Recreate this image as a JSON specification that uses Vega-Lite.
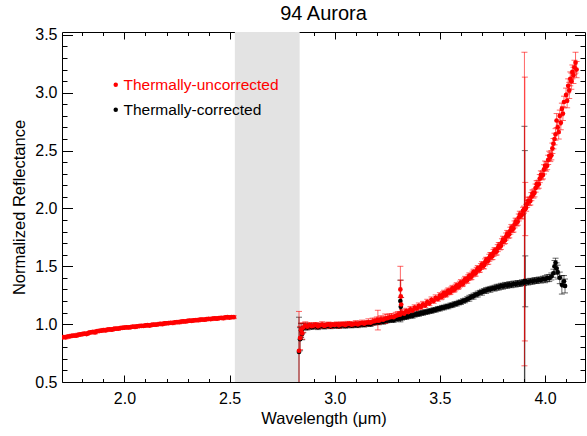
{
"$schema": "https://vega.github.io/schema/vega-lite/v6.json",
"width": 523, "height": 350,
"autosize": "none",
"padding": {"left": 62, "top": 32, "right": 2, "bottom": 54},
"background": "white",
"title": {"text": "94 Aurora", "fontSize": 20, "fontWeight": "normal", "font": "Liberation Sans", "color": "black", "offset": 3},
"config": {
  "font": "Liberation Sans",
  "view": {"stroke": null},
  "axis": {"grid": false, "domainColor": "black", "tickColor": "black", "labelColor": "black", "titleColor": "black", "labelFontSize": 16, "titleFontSize": 16.5, "titleFontWeight": "normal", "labelFont": "Liberation Sans", "titleFont": "Liberation Sans", "labelOverlap": false, "labelFlush": false, "labelBound": false},
  "legend": {"labelFont": "Liberation Sans", "labelFontSize": 15.5}
},
"datasets": {
"spec": [
{"s":"c","w":2.83,"v":0.76,"e":0.3},{"s":"c","w":2.835,"v":0.87,"e":0.1},{"s":"c","w":2.84,"v":0.945,"e":0.06},{"s":"c","w":2.845,"v":0.915,"e":0.05},{"s":"c","w":2.85,"v":0.965,"e":0.04},{"s":"c","w":2.86,"v":0.98,"e":0.03},{"s":"c","w":2.87,"v":0.97,"e":0.02},{"s":"c","w":2.88,"v":0.985,"e":0.02},{"s":"c","w":2.89,"v":0.975,"e":0.02},{"s":"c","w":2.9,"v":0.98,"e":0.02},{"s":"c","w":2.91,"v":0.985,"e":0.02},{"s":"c","w":2.92,"v":0.973,"e":0.02},{"s":"c","w":2.93,"v":0.983,"e":0.02},{"s":"c","w":2.94,"v":0.987,"e":0.02},{"s":"c","w":2.95,"v":0.978,"e":0.02},{"s":"c","w":2.96,"v":0.985,"e":0.02},{"s":"c","w":2.97,"v":0.99,"e":0.02},{"s":"c","w":2.98,"v":0.981,"e":0.02},{"s":"c","w":2.99,"v":0.987,"e":0.02},{"s":"c","w":3.0,"v":0.985,"e":0.02},{"s":"c","w":3.01,"v":0.99,"e":0.02},{"s":"c","w":3.02,"v":0.983,"e":0.02},{"s":"c","w":3.03,"v":0.989,"e":0.02},{"s":"c","w":3.04,"v":0.993,"e":0.02},{"s":"c","w":3.05,"v":0.985,"e":0.02},{"s":"c","w":3.06,"v":0.99,"e":0.02},{"s":"c","w":3.07,"v":0.994,"e":0.02},{"s":"c","w":3.08,"v":0.988,"e":0.02},{"s":"c","w":3.09,"v":0.992,"e":0.02},{"s":"c","w":3.1,"v":0.996,"e":0.02},{"s":"c","w":3.11,"v":0.99,"e":0.02},{"s":"c","w":3.12,"v":0.997,"e":0.02},{"s":"c","w":3.13,"v":1.0,"e":0.02},{"s":"c","w":3.14,"v":0.995,"e":0.02},{"s":"c","w":3.15,"v":1.002,"e":0.02},{"s":"c","w":3.16,"v":1.005,"e":0.02},{"s":"c","w":3.17,"v":1.0,"e":0.02},{"s":"c","w":3.18,"v":1.01,"e":0.02},{"s":"c","w":3.19,"v":1.013,"e":0.02},{"s":"c","w":3.2,"v":1.018,"e":0.02},{"s":"c","w":3.21,"v":1.015,"e":0.02},{"s":"c","w":3.22,"v":1.025,"e":0.02},{"s":"c","w":3.23,"v":1.02,"e":0.02},{"s":"c","w":3.24,"v":1.03,"e":0.025},{"s":"c","w":3.25,"v":1.032,"e":0.02},{"s":"c","w":3.26,"v":1.035,"e":0.02},{"s":"c","w":3.27,"v":1.038,"e":0.02},{"s":"c","w":3.28,"v":1.035,"e":0.02},{"s":"c","w":3.29,"v":1.045,"e":0.02},{"s":"c","w":3.3,"v":1.048,"e":0.02},{"s":"c","w":3.31,"v":1.052,"e":0.02},{"s":"c","w":3.312,"v":1.2,"e":0.18},{"s":"c","w":3.314,"v":1.15,"e":0.08},{"s":"c","w":3.32,"v":1.055,"e":0.02},{"s":"c","w":3.33,"v":1.06,"e":0.02},{"s":"c","w":3.34,"v":1.062,"e":0.02},{"s":"c","w":3.35,"v":1.068,"e":0.02},{"s":"c","w":3.36,"v":1.074,"e":0.02},{"s":"c","w":3.37,"v":1.072,"e":0.02},{"s":"c","w":3.38,"v":1.081,"e":0.02},{"s":"c","w":3.39,"v":1.087,"e":0.02},{"s":"c","w":3.4,"v":1.088,"e":0.02},{"s":"c","w":3.41,"v":1.096,"e":0.02},{"s":"c","w":3.42,"v":1.097,"e":0.02},{"s":"c","w":3.43,"v":1.104,"e":0.02},{"s":"c","w":3.44,"v":1.106,"e":0.02},{"s":"c","w":3.45,"v":1.113,"e":0.02},{"s":"c","w":3.46,"v":1.114,"e":0.02},{"s":"c","w":3.47,"v":1.122,"e":0.02},{"s":"c","w":3.48,"v":1.124,"e":0.02},{"s":"c","w":3.49,"v":1.132,"e":0.02},{"s":"c","w":3.5,"v":1.134,"e":0.02},{"s":"c","w":3.51,"v":1.142,"e":0.02},{"s":"c","w":3.52,"v":1.144,"e":0.02},{"s":"c","w":3.53,"v":1.152,"e":0.02},{"s":"c","w":3.54,"v":1.153,"e":0.02},{"s":"c","w":3.55,"v":1.162,"e":0.02},{"s":"c","w":3.56,"v":1.165,"e":0.02},{"s":"c","w":3.57,"v":1.174,"e":0.02},{"s":"c","w":3.58,"v":1.177,"e":0.02},{"s":"c","w":3.59,"v":1.186,"e":0.02},{"s":"c","w":3.6,"v":1.19,"e":0.02},{"s":"c","w":3.61,"v":1.2,"e":0.02},{"s":"c","w":3.62,"v":1.205,"e":0.02},{"s":"c","w":3.63,"v":1.217,"e":0.02},{"s":"c","w":3.64,"v":1.224,"e":0.025},{"s":"c","w":3.65,"v":1.236,"e":0.02},{"s":"c","w":3.66,"v":1.242,"e":0.025},{"s":"c","w":3.67,"v":1.254,"e":0.02},{"s":"c","w":3.68,"v":1.26,"e":0.025},{"s":"c","w":3.69,"v":1.272,"e":0.02},{"s":"c","w":3.7,"v":1.276,"e":0.025},{"s":"c","w":3.71,"v":1.287,"e":0.02},{"s":"c","w":3.72,"v":1.291,"e":0.025},{"s":"c","w":3.73,"v":1.3,"e":0.02},{"s":"c","w":3.74,"v":1.301,"e":0.025},{"s":"c","w":3.75,"v":1.31,"e":0.02},{"s":"c","w":3.76,"v":1.311,"e":0.025},{"s":"c","w":3.77,"v":1.319,"e":0.025},{"s":"c","w":3.78,"v":1.32,"e":0.025},{"s":"c","w":3.79,"v":1.328,"e":0.025},{"s":"c","w":3.8,"v":1.328,"e":0.025},{"s":"c","w":3.81,"v":1.336,"e":0.025},{"s":"c","w":3.82,"v":1.335,"e":0.025},{"s":"c","w":3.83,"v":1.342,"e":0.025},{"s":"c","w":3.84,"v":1.34,"e":0.025},{"s":"c","w":3.85,"v":1.347,"e":0.025},{"s":"c","w":3.86,"v":1.346,"e":0.025},{"s":"c","w":3.87,"v":1.352,"e":0.025},{"s":"c","w":3.88,"v":1.351,"e":0.025},{"s":"c","w":3.89,"v":1.358,"e":0.025},{"s":"c","w":3.9,"v":1.358,"e":0.025},{"s":"c","w":3.902,"v":1.37,"e":1.34},{"s":"c","w":3.904,"v":1.37,"e":1.13},{"s":"c","w":3.906,"v":1.37,"e":0.22},{"s":"c","w":3.91,"v":1.365,"e":0.025},{"s":"c","w":3.92,"v":1.364,"e":0.025},{"s":"c","w":3.93,"v":1.371,"e":0.025},{"s":"c","w":3.94,"v":1.37,"e":0.025},{"s":"c","w":3.95,"v":1.377,"e":0.025},{"s":"c","w":3.96,"v":1.376,"e":0.025},{"s":"c","w":3.97,"v":1.382,"e":0.025},{"s":"c","w":3.98,"v":1.381,"e":0.025},{"s":"c","w":3.99,"v":1.389,"e":0.025},{"s":"c","w":4.0,"v":1.388,"e":0.03},{"s":"c","w":4.01,"v":1.397,"e":0.03},{"s":"c","w":4.02,"v":1.398,"e":0.03},{"s":"c","w":4.03,"v":1.412,"e":0.03},{"s":"c","w":4.04,"v":1.44,"e":0.035},{"s":"c","w":4.045,"v":1.5,"e":0.05},{"s":"c","w":4.05,"v":1.53,"e":0.04},{"s":"c","w":4.055,"v":1.48,"e":0.05},{"s":"c","w":4.06,"v":1.45,"e":0.06},{"s":"c","w":4.07,"v":1.4,"e":0.05},{"s":"c","w":4.08,"v":1.34,"e":0.08},{"s":"c","w":4.09,"v":1.37,"e":0.05},{"s":"c","w":4.095,"v":1.33,"e":0.06},
{"s":"u","w":1.7,"v":0.884,"e":0.012},{"s":"u","w":1.71,"v":0.889,"e":0.012},{"s":"u","w":1.72,"v":0.886,"e":0.014},{"s":"u","w":1.73,"v":0.893,"e":0.012},{"s":"u","w":1.74,"v":0.895,"e":0.012},{"s":"u","w":1.75,"v":0.899,"e":0.014},{"s":"u","w":1.76,"v":0.902,"e":0.012},{"s":"u","w":1.77,"v":0.9,"e":0.012},{"s":"u","w":1.78,"v":0.908,"e":0.014},{"s":"u","w":1.79,"v":0.911,"e":0.012},{"s":"u","w":1.8,"v":0.913,"e":0.012},{"s":"u","w":1.81,"v":0.918,"e":0.014},{"s":"u","w":1.82,"v":0.914,"e":0.012},{"s":"u","w":1.83,"v":0.924,"e":0.012},{"s":"u","w":1.84,"v":0.93,"e":0.014},{"s":"u","w":1.85,"v":0.933,"e":0.012},{"s":"u","w":1.86,"v":0.928,"e":0.012},{"s":"u","w":1.87,"v":0.939,"e":0.014},{"s":"u","w":1.88,"v":0.942,"e":0.012},{"s":"u","w":1.89,"v":0.944,"e":0.012},{"s":"u","w":1.9,"v":0.949,"e":0.014},{"s":"u","w":1.91,"v":0.946,"e":0.012},{"s":"u","w":1.92,"v":0.953,"e":0.012},{"s":"u","w":1.93,"v":0.955,"e":0.014},{"s":"u","w":1.94,"v":0.952,"e":0.012},{"s":"u","w":1.95,"v":0.959,"e":0.012},{"s":"u","w":1.96,"v":0.962,"e":0.014},{"s":"u","w":1.97,"v":0.96,"e":0.012},{"s":"u","w":1.98,"v":0.966,"e":0.012},{"s":"u","w":1.99,"v":0.968,"e":0.014},{"s":"u","w":2.0,"v":0.97,"e":0.012},{"s":"u","w":2.01,"v":0.973,"e":0.012},{"s":"u","w":2.02,"v":0.971,"e":0.014},{"s":"u","w":2.03,"v":0.975,"e":0.012},{"s":"u","w":2.04,"v":0.978,"e":0.012},{"s":"u","w":2.05,"v":0.976,"e":0.014},{"s":"u","w":2.06,"v":0.981,"e":0.012},{"s":"u","w":2.07,"v":0.983,"e":0.012},{"s":"u","w":2.08,"v":0.985,"e":0.014},{"s":"u","w":2.09,"v":0.984,"e":0.012},{"s":"u","w":2.1,"v":0.989,"e":0.012},{"s":"u","w":2.11,"v":0.991,"e":0.014},{"s":"u","w":2.12,"v":0.988,"e":0.012},{"s":"u","w":2.13,"v":0.994,"e":0.012},{"s":"u","w":2.14,"v":0.996,"e":0.014},{"s":"u","w":2.15,"v":0.995,"e":0.012},{"s":"u","w":2.16,"v":0.999,"e":0.012},{"s":"u","w":2.17,"v":1.002,"e":0.014},{"s":"u","w":2.18,"v":1.0,"e":0.012},{"s":"u","w":2.19,"v":1.006,"e":0.012},{"s":"u","w":2.2,"v":1.008,"e":0.014},{"s":"u","w":2.21,"v":1.009,"e":0.012},{"s":"u","w":2.22,"v":1.012,"e":0.012},{"s":"u","w":2.23,"v":1.01,"e":0.014},{"s":"u","w":2.24,"v":1.016,"e":0.012},{"s":"u","w":2.25,"v":1.018,"e":0.012},{"s":"u","w":2.26,"v":1.017,"e":0.014},{"s":"u","w":2.27,"v":1.022,"e":0.012},{"s":"u","w":2.28,"v":1.024,"e":0.012},{"s":"u","w":2.29,"v":1.023,"e":0.014},{"s":"u","w":2.3,"v":1.028,"e":0.012},{"s":"u","w":2.31,"v":1.03,"e":0.012},{"s":"u","w":2.32,"v":1.029,"e":0.014},{"s":"u","w":2.33,"v":1.033,"e":0.012},{"s":"u","w":2.34,"v":1.035,"e":0.012},{"s":"u","w":2.35,"v":1.034,"e":0.014},{"s":"u","w":2.36,"v":1.039,"e":0.012},{"s":"u","w":2.37,"v":1.04,"e":0.012},{"s":"u","w":2.38,"v":1.038,"e":0.014},{"s":"u","w":2.39,"v":1.043,"e":0.012},{"s":"u","w":2.4,"v":1.045,"e":0.012},{"s":"u","w":2.41,"v":1.044,"e":0.014},{"s":"u","w":2.42,"v":1.048,"e":0.012},{"s":"u","w":2.43,"v":1.05,"e":0.012},{"s":"u","w":2.44,"v":1.047,"e":0.014},{"s":"u","w":2.45,"v":1.053,"e":0.012},{"s":"u","w":2.46,"v":1.055,"e":0.012},{"s":"u","w":2.47,"v":1.052,"e":0.014},{"s":"u","w":2.48,"v":1.058,"e":0.012},{"s":"u","w":2.49,"v":1.06,"e":0.012},{"s":"u","w":2.5,"v":1.057,"e":0.014},{"s":"u","w":2.51,"v":1.062,"e":0.012},{"s":"u","w":2.52,"v":1.06,"e":0.012},
{"s":"u","w":2.83,"v":0.77,"e":0.34},{"s":"u","w":2.835,"v":0.88,"e":0.1},{"s":"u","w":2.84,"v":0.95,"e":0.06},{"s":"u","w":2.845,"v":0.92,"e":0.05},{"s":"u","w":2.85,"v":0.97,"e":0.04},{"s":"u","w":2.86,"v":0.99,"e":0.03},{"s":"u","w":2.87,"v":0.978,"e":0.02},{"s":"u","w":2.88,"v":0.993,"e":0.02},{"s":"u","w":2.89,"v":0.982,"e":0.02},{"s":"u","w":2.9,"v":0.988,"e":0.025},{"s":"u","w":2.91,"v":0.994,"e":0.02},{"s":"u","w":2.92,"v":0.981,"e":0.02},{"s":"u","w":2.93,"v":0.99,"e":0.02},{"s":"u","w":2.94,"v":0.996,"e":0.025},{"s":"u","w":2.95,"v":0.985,"e":0.02},{"s":"u","w":2.96,"v":0.992,"e":0.02},{"s":"u","w":2.97,"v":0.998,"e":0.02},{"s":"u","w":2.98,"v":0.988,"e":0.025},{"s":"u","w":2.99,"v":0.995,"e":0.02},{"s":"u","w":3.0,"v":0.992,"e":0.02},{"s":"u","w":3.01,"v":0.999,"e":0.02},{"s":"u","w":3.02,"v":0.99,"e":0.025},{"s":"u","w":3.03,"v":0.997,"e":0.02},{"s":"u","w":3.04,"v":1.0,"e":0.02},{"s":"u","w":3.05,"v":0.992,"e":0.02},{"s":"u","w":3.06,"v":0.999,"e":0.025},{"s":"u","w":3.07,"v":1.003,"e":0.02},{"s":"u","w":3.08,"v":0.995,"e":0.02},{"s":"u","w":3.09,"v":1.0,"e":0.02},{"s":"u","w":3.1,"v":1.005,"e":0.025},{"s":"u","w":3.11,"v":0.998,"e":0.02},{"s":"u","w":3.12,"v":1.006,"e":0.02},{"s":"u","w":3.13,"v":1.01,"e":0.025},{"s":"u","w":3.14,"v":1.004,"e":0.02},{"s":"u","w":3.15,"v":1.012,"e":0.02},{"s":"u","w":3.16,"v":1.016,"e":0.03},{"s":"u","w":3.17,"v":1.012,"e":0.02},{"s":"u","w":3.18,"v":1.022,"e":0.03},{"s":"u","w":3.19,"v":1.026,"e":0.025},{"s":"u","w":3.2,"v":1.032,"e":0.03},{"s":"u","w":3.205,"v":1.035,"e":0.085},{"s":"u","w":3.21,"v":1.03,"e":0.03},{"s":"u","w":3.22,"v":1.042,"e":0.03},{"s":"u","w":3.23,"v":1.038,"e":0.03},{"s":"u","w":3.24,"v":1.048,"e":0.04},{"s":"u","w":3.25,"v":1.052,"e":0.03},{"s":"u","w":3.26,"v":1.058,"e":0.03},{"s":"u","w":3.27,"v":1.062,"e":0.03},{"s":"u","w":3.28,"v":1.06,"e":0.025},{"s":"u","w":3.29,"v":1.072,"e":0.03},{"s":"u","w":3.3,"v":1.078,"e":0.03},{"s":"u","w":3.31,"v":1.082,"e":0.025},{"s":"u","w":3.312,"v":1.3,"e":0.2},{"s":"u","w":3.314,"v":1.24,"e":0.14},{"s":"u","w":3.316,"v":1.17,"e":0.06},{"s":"u","w":3.32,"v":1.098,"e":0.03},{"s":"u","w":3.33,"v":1.09,"e":0.025},{"s":"u","w":3.34,"v":1.112,"e":0.025},{"s":"u","w":3.35,"v":1.104,"e":0.02},{"s":"u","w":3.36,"v":1.128,"e":0.025},{"s":"u","w":3.37,"v":1.118,"e":0.02},{"s":"u","w":3.38,"v":1.142,"e":0.025},{"s":"u","w":3.39,"v":1.135,"e":0.02},{"s":"u","w":3.4,"v":1.158,"e":0.025},{"s":"u","w":3.41,"v":1.148,"e":0.02},{"s":"u","w":3.42,"v":1.172,"e":0.025},{"s":"u","w":3.43,"v":1.163,"e":0.02},{"s":"u","w":3.44,"v":1.19,"e":0.025},{"s":"u","w":3.45,"v":1.18,"e":0.02},{"s":"u","w":3.46,"v":1.21,"e":0.025},{"s":"u","w":3.47,"v":1.2,"e":0.02},{"s":"u","w":3.48,"v":1.228,"e":0.025},{"s":"u","w":3.49,"v":1.218,"e":0.02},{"s":"u","w":3.5,"v":1.247,"e":0.025},{"s":"u","w":3.505,"v":1.236,"e":0.025},{"s":"u","w":3.51,"v":1.238,"e":0.02},{"s":"u","w":3.515,"v":1.256,"e":0.025},{"s":"u","w":3.52,"v":1.268,"e":0.025},{"s":"u","w":3.525,"v":1.259,"e":0.025},{"s":"u","w":3.53,"v":1.257,"e":0.02},{"s":"u","w":3.535,"v":1.277,"e":0.025},{"s":"u","w":3.54,"v":1.288,"e":0.025},{"s":"u","w":3.545,"v":1.28,"e":0.025},{"s":"u","w":3.55,"v":1.278,"e":0.02},{"s":"u","w":3.555,"v":1.297,"e":0.025},{"s":"u","w":3.56,"v":1.31,"e":0.025},{"s":"u","w":3.565,"v":1.301,"e":0.025},{"s":"u","w":3.57,"v":1.3,"e":0.02},{"s":"u","w":3.575,"v":1.32,"e":0.025},{"s":"u","w":3.58,"v":1.333,"e":0.025},{"s":"u","w":3.585,"v":1.325,"e":0.025},{"s":"u","w":3.59,"v":1.326,"e":0.02},{"s":"u","w":3.595,"v":1.346,"e":0.025},{"s":"u","w":3.6,"v":1.36,"e":0.025},{"s":"u","w":3.605,"v":1.35,"e":0.025},{"s":"u","w":3.61,"v":1.35,"e":0.02},{"s":"u","w":3.615,"v":1.373,"e":0.025},{"s":"u","w":3.62,"v":1.388,"e":0.025},{"s":"u","w":3.625,"v":1.38,"e":0.025},{"s":"u","w":3.63,"v":1.38,"e":0.025},{"s":"u","w":3.635,"v":1.402,"e":0.025},{"s":"u","w":3.64,"v":1.418,"e":0.025},{"s":"u","w":3.645,"v":1.408,"e":0.025},{"s":"u","w":3.65,"v":1.41,"e":0.025},{"s":"u","w":3.655,"v":1.433,"e":0.025},{"s":"u","w":3.66,"v":1.45,"e":0.025},{"s":"u","w":3.665,"v":1.441,"e":0.025},{"s":"u","w":3.67,"v":1.44,"e":0.025},{"s":"u","w":3.675,"v":1.466,"e":0.025},{"s":"u","w":3.68,"v":1.482,"e":0.025},{"s":"u","w":3.685,"v":1.472,"e":0.025},{"s":"u","w":3.69,"v":1.474,"e":0.025},{"s":"u","w":3.695,"v":1.498,"e":0.025},{"s":"u","w":3.7,"v":1.515,"e":0.025},{"s":"u","w":3.705,"v":1.505,"e":0.025},{"s":"u","w":3.71,"v":1.508,"e":0.03},{"s":"u","w":3.715,"v":1.534,"e":0.03},{"s":"u","w":3.72,"v":1.553,"e":0.025},{"s":"u","w":3.725,"v":1.546,"e":0.03},{"s":"u","w":3.73,"v":1.548,"e":0.03},{"s":"u","w":3.735,"v":1.574,"e":0.03},{"s":"u","w":3.74,"v":1.594,"e":0.025},{"s":"u","w":3.745,"v":1.586,"e":0.03},{"s":"u","w":3.75,"v":1.588,"e":0.03},{"s":"u","w":3.755,"v":1.616,"e":0.03},{"s":"u","w":3.76,"v":1.636,"e":0.025},{"s":"u","w":3.765,"v":1.626,"e":0.03},{"s":"u","w":3.77,"v":1.628,"e":0.03},{"s":"u","w":3.775,"v":1.657,"e":0.03},{"s":"u","w":3.78,"v":1.68,"e":0.025},{"s":"u","w":3.785,"v":1.672,"e":0.03},{"s":"u","w":3.79,"v":1.676,"e":0.03},{"s":"u","w":3.795,"v":1.708,"e":0.03},{"s":"u","w":3.8,"v":1.73,"e":0.03},{"s":"u","w":3.805,"v":1.722,"e":0.03},{"s":"u","w":3.81,"v":1.726,"e":0.03},{"s":"u","w":3.815,"v":1.758,"e":0.03},{"s":"u","w":3.82,"v":1.78,"e":0.03},{"s":"u","w":3.825,"v":1.772,"e":0.03},{"s":"u","w":3.83,"v":1.776,"e":0.03},{"s":"u","w":3.835,"v":1.808,"e":0.03},{"s":"u","w":3.84,"v":1.832,"e":0.03},{"s":"u","w":3.845,"v":1.822,"e":0.03},{"s":"u","w":3.85,"v":1.826,"e":0.03},{"s":"u","w":3.855,"v":1.862,"e":0.03},{"s":"u","w":3.86,"v":1.886,"e":0.03},{"s":"u","w":3.865,"v":1.878,"e":0.03},{"s":"u","w":3.87,"v":1.885,"e":0.03},{"s":"u","w":3.875,"v":1.922,"e":0.03},{"s":"u","w":3.88,"v":1.946,"e":0.03},{"s":"u","w":3.885,"v":1.938,"e":0.03},{"s":"u","w":3.89,"v":1.945,"e":0.03},{"s":"u","w":3.895,"v":1.98,"e":0.03},{"s":"u","w":3.9,"v":1.99,"e":0.03},{"s":"u","w":3.902,"v":1.995,"e":1.355},{"s":"u","w":3.904,"v":1.995,"e":1.14},{"s":"u","w":3.906,"v":1.995,"e":0.23},{"s":"u","w":3.91,"v":2.006,"e":0.03},{"s":"u","w":3.915,"v":2.04,"e":0.03},{"s":"u","w":3.92,"v":2.068,"e":0.03},{"s":"u","w":3.925,"v":2.06,"e":0.035},{"s":"u","w":3.93,"v":2.065,"e":0.035},{"s":"u","w":3.935,"v":2.102,"e":0.035},{"s":"u","w":3.94,"v":2.13,"e":0.03},{"s":"u","w":3.945,"v":2.124,"e":0.035},{"s":"u","w":3.95,"v":2.135,"e":0.035},{"s":"u","w":3.955,"v":2.176,"e":0.035},{"s":"u","w":3.96,"v":2.21,"e":0.03},{"s":"u","w":3.965,"v":2.203,"e":0.035},{"s":"u","w":3.97,"v":2.21,"e":0.035},{"s":"u","w":3.975,"v":2.258,"e":0.035},{"s":"u","w":3.98,"v":2.29,"e":0.035},{"s":"u","w":3.985,"v":2.282,"e":0.035},{"s":"u","w":3.99,"v":2.29,"e":0.035},{"s":"u","w":3.995,"v":2.338,"e":0.04},{"s":"u","w":4.0,"v":2.37,"e":0.04},{"s":"u","w":4.005,"v":2.362,"e":0.04},{"s":"u","w":4.01,"v":2.37,"e":0.035},{"s":"u","w":4.015,"v":2.42,"e":0.04},{"s":"u","w":4.02,"v":2.455,"e":0.04},{"s":"u","w":4.025,"v":2.445,"e":0.04},{"s":"u","w":4.03,"v":2.46,"e":0.04},{"s":"u","w":4.035,"v":2.52,"e":0.045},{"s":"u","w":4.04,"v":2.56,"e":0.045},{"s":"u","w":4.045,"v":2.6,"e":0.05},{"s":"u","w":4.05,"v":2.64,"e":0.05},{"s":"u","w":4.055,"v":2.76,"e":0.06},{"s":"u","w":4.06,"v":2.7,"e":0.05},{"s":"u","w":4.065,"v":2.66,"e":0.06},{"s":"u","w":4.07,"v":2.8,"e":0.05},{"s":"u","w":4.075,"v":2.74,"e":0.06},{"s":"u","w":4.08,"v":2.86,"e":0.05},{"s":"u","w":4.085,"v":2.82,"e":0.06},{"s":"u","w":4.09,"v":2.92,"e":0.05},{"s":"u","w":4.1,"v":2.98,"e":0.06},{"s":"u","w":4.105,"v":2.93,"e":0.06},{"s":"u","w":4.11,"v":3.06,"e":0.06},{"s":"u","w":4.115,"v":3.02,"e":0.07},{"s":"u","w":4.12,"v":3.12,"e":0.06},{"s":"u","w":4.125,"v":3.1,"e":0.07},{"s":"u","w":4.13,"v":3.18,"e":0.06},{"s":"u","w":4.135,"v":3.15,"e":0.07},{"s":"u","w":4.14,"v":3.22,"e":0.06},{"s":"u","w":4.145,"v":3.26,"e":0.09},{"s":"u","w":4.15,"v":3.2,"e":0.07}
]
},
"layer": [
  {
    "data": {"values": [{"a": 2.525, "b": 2.833}]},
    "mark": {"type": "rect", "color": "#e3e3e3"},
    "encoding": {
      "x": {"field": "a", "type": "quantitative",
        "scale": {"domain": [1.703, 4.19], "nice": false, "zero": false},
        "axis": {"orient": "bottom", "title": "Wavelength (μm)", "titlePadding": 1,
          "values": [1.8,1.9,2.0,2.1,2.2,2.3,2.4,2.5,2.6,2.7,2.8,2.9,3.0,3.1,3.2,3.3,3.4,3.5,3.6,3.7,3.8,3.9,4.0,4.1],
          "labelExpr": "abs(datum.value*2-round(datum.value*2))<0.001 ? format(datum.value,'.1f') : ''",
          "tickSize": {"condition": {"test": "abs(datum.value*2-round(datum.value*2))<0.001", "value": -7}, "value": -3.5},
          "labelPadding": 15}},
      "x2": {"field": "b"}
    }
  },
  {
    "data": {"name": "spec"},
    "mark": {"type": "errorbar", "ticks": {"size": 6}, "opacity": 0.6, "clip": true},
    "encoding": {
      "x": {"field": "w", "type": "quantitative",
        "scale": {"domain": [1.703, 4.19], "nice": false, "zero": false},
        "axis": {"orient": "top", "title": null, "labels": false,
          "values": [1.8,1.9,2.0,2.1,2.2,2.3,2.4,2.5,2.6,2.7,2.8,2.9,3.0,3.1,3.2,3.3,3.4,3.5,3.6,3.7,3.8,3.9,4.0,4.1],
          "tickSize": {"condition": {"test": "abs(datum.value*2-round(datum.value*2))<0.001", "value": -7}, "value": -3.5}}},
      "y": {"field": "v", "type": "quantitative",
        "scale": {"domain": [0.5, 3.525], "nice": false, "zero": false},
        "axis": {"orient": "right", "title": null, "labels": false,
          "values": [0.5,0.6,0.7,0.8,0.9,1.0,1.1,1.2,1.3,1.4,1.5,1.6,1.7,1.8,1.9,2.0,2.1,2.2,2.3,2.4,2.5,2.6,2.7,2.8,2.9,3.0,3.1,3.2,3.3,3.4,3.5],
          "tickSize": {"condition": {"test": "abs(datum.value*2-round(datum.value*2))<0.001", "value": -10.5}, "value": -5}}},
      "yError": {"field": "e"},
      "color": {"field": "s", "type": "nominal", "scale": {"domain": ["u", "c"], "range": ["red", "black"]},
        "legend": {"orient": "none", "legendX": 46, "legendY": 45, "title": null, "padding": 0,
          "symbolType": "circle", "symbolSize": 20, "symbolStrokeWidth": 0, "symbolOpacity": 1, "labelOffset": 0, "rowPadding": 8,
          "labelExpr": "datum.value === 'u' ? 'Thermally-uncorrected' : 'Thermally-corrected'",
          "encoding": {"labels": {"fill": {"condition": {"test": "datum.value === 'u'", "value": "red"}, "value": "black"}}}}}
    }
  },
  {
    "data": {"name": "spec"},
    "mark": {"type": "point", "filled": true, "size": 22, "opacity": 1, "clip": true},
    "encoding": {
      "x": {"field": "w", "type": "quantitative", "axis": null},
      "y": {"field": "v", "type": "quantitative",
        "axis": {"orient": "left", "title": "Normalized Reflectance", "titlePadding": 7,
          "values": [0.5,0.6,0.7,0.8,0.9,1.0,1.1,1.2,1.3,1.4,1.5,1.6,1.7,1.8,1.9,2.0,2.1,2.2,2.3,2.4,2.5,2.6,2.7,2.8,2.9,3.0,3.1,3.2,3.3,3.4,3.5],
          "labelExpr": "abs(datum.value*2-round(datum.value*2))<0.001 ? format(datum.value,'.1f') : ''",
          "tickSize": {"condition": {"test": "abs(datum.value*2-round(datum.value*2))<0.001", "value": -10.5}, "value": -5},
          "labelPadding": 15.5}},
      "color": {"field": "s", "type": "nominal", "scale": {"domain": ["u", "c"], "range": ["red", "black"]},
        "legend": {"orient": "none", "legendX": 46, "legendY": 45, "title": null, "padding": 0,
          "symbolType": "circle", "symbolSize": 20, "symbolStrokeWidth": 0, "symbolOpacity": 1, "labelOffset": 0, "rowPadding": 8,
          "labelExpr": "datum.value === 'u' ? 'Thermally-uncorrected' : 'Thermally-corrected'",
          "encoding": {"labels": {"fill": {"condition": {"test": "datum.value === 'u'", "value": "red"}, "value": "black"}}}}}
    }
  }
],
"resolve": {"axis": {"x": "independent", "y": "independent"}}
}
